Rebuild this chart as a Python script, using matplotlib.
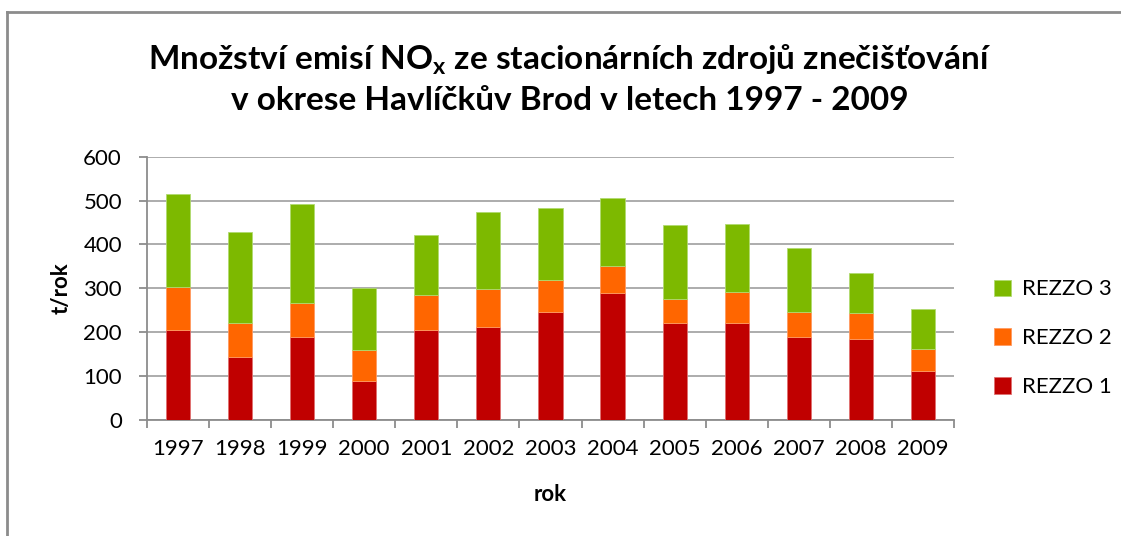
import matplotlib
matplotlib.use("Agg")
import matplotlib.pyplot as plt
import numpy as np
from matplotlib.lines import Line2D

plt.rcParams['font.family'] = ['Lato', 'DejaVu Sans']
plt.rcParams['mathtext.fontset'] = 'custom'
plt.rcParams['mathtext.bf'] = 'Lato:bold'
plt.rcParams['mathtext.rm'] = 'Lato'

# data (t/rok)
years = ['1997', '1998', '1999', '2000', '2001', '2002', '2003',
         '2004', '2005', '2006', '2007', '2008', '2009']
rezzo1 = [205, 144, 188, 88, 204, 213, 247, 290, 222, 222, 190, 185, 112]
rezzo2 = [97, 76, 78, 72, 81, 85, 73, 62, 54, 69, 56, 58, 50]
rezzo3 = [214, 208, 226, 140, 137, 177, 164, 154, 168, 155, 147, 93, 91]

c_r1 = '#C00000'
c_r2 = '#FF6600'
c_r3 = '#7DB900'
grid_c = '#A6A6A6'
axis_c = '#8C8C8C'

fig = plt.figure(figsize=(11.21, 5.36), dpi=100)
ax = fig.add_axes([0.1311, 0.2164, 0.7199, 0.4913])

x = np.arange(len(years))
w = 0.39
r1 = np.array(rezzo1)
r2 = np.array(rezzo2)
r3 = np.array(rezzo3)
b1 = ax.bar(x, r1, w, color=c_r1, edgecolor='#E07070', linewidth=0.6, zorder=3, label='REZZO 1')
b2 = ax.bar(x, r2, w, bottom=r1, color=c_r2, edgecolor='#FF9A60', linewidth=0.6, zorder=3, label='REZZO 2')
b3 = ax.bar(x, r3, w, bottom=r1 + r2, color=c_r3, edgecolor='#B0DA70', linewidth=0.6, zorder=3, label='REZZO 3')

ax.set_xlim(-0.5, len(years) - 0.5)
ax.set_ylim(0, 600)
ax.set_yticks(range(0, 601, 100))
ax.yaxis.grid(True, color=grid_c, linewidth=1.3, zorder=0)
ax.set_axisbelow(True)

ax.set_xticks(x)
ax.set_xticklabels(years, fontsize=16)
ax.set_xticks(np.arange(-0.5, len(years), 1), minor=True)
ax.tick_params(axis='x', which='major', length=0, pad=14)
ax.tick_params(axis='x', which='minor', length=6, width=1.3, color=axis_c)
ax.tick_params(axis='y', length=6, width=1.3, color=axis_c, labelsize=16, pad=12)

for s in ['top', 'right']:
    ax.spines[s].set_visible(False)
for s in ['left', 'bottom']:
    ax.spines[s].set_color(axis_c)
    ax.spines[s].set_linewidth(1.3)

ax.set_ylabel('t/rok', fontsize=16, fontweight='bold', labelpad=8)
ax.set_xlabel('rok', fontsize=16, fontweight='bold', labelpad=18)

fig.text(0.508, 0.888, r'Množství emisí NO$_\mathbf{x}$ ze stacionárních zdrojů znečišťování',
         ha='center', va='center', fontsize=24, fontweight='bold')
fig.text(0.508, 0.813, 'v okrese Havlíčkův Brod v letech 1997 - 2009',
         ha='center', va='center', fontsize=24, fontweight='bold')

leg = ax.legend(handles=[b3, b2, b1], loc='center left', bbox_to_anchor=(1.025, 0.31),
                frameon=False, fontsize=16, handlelength=0.75, handleheight=0.75,
                handletextpad=0.5, labelspacing=1.3)

# chart frame (top and left edges visible)
fig.add_artist(Line2D([7 / 1121, 1], [1 - 12 / 536, 1 - 12 / 536], color=axis_c, linewidth=2))
fig.add_artist(Line2D([7 / 1121, 7 / 1121], [0, 1 - 12 / 536], color=axis_c, linewidth=2))

fig.savefig('out.png', dpi=100)
